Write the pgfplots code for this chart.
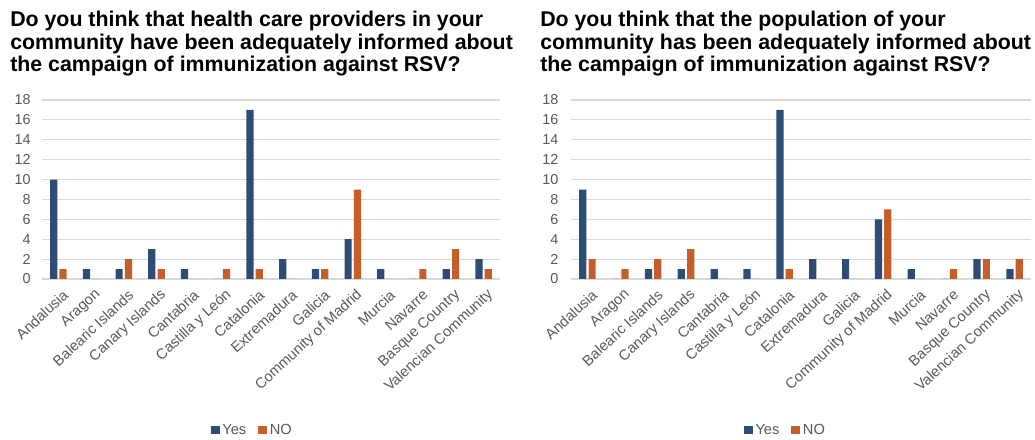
\documentclass[border=0pt]{standalone}
\usepackage{pgfplots}
\pgfplotsset{compat=1.18}
\usepackage{pgfplotstable}
\usepackage{fontspec}
\setmainfont{Liberation Sans}
\definecolor{yesblue}{HTML}{2E4D74}
\definecolor{noorange}{HTML}{C45F2A}
\definecolor{ticktext}{HTML}{595959}
\definecolor{gridgray}{HTML}{D9D9D9}

\pgfplotstableread{
x yes no
0 10 1
1 1 0
2 1 2
3 3 1
4 1 0
5 0 1
6 17 1
7 2 0
8 1 1
9 4 9
10 1 0
11 0 1
12 1 3
13 2 1
}\leftdata

\pgfplotstableread{
x yes no
0 9 2
1 0 1
2 1 2
3 1 3
4 1 0
5 1 0
6 17 1
7 2 0
8 2 0
9 6 7
10 1 0
11 0 1
12 2 2
13 1 2
}\rightdata

\pgfplotsset{
  mystyle/.style={
    scale only axis,
    width=#1,
    height=134.25pt,
    ybar=1.6pt,
    bar width=5.4pt,
    xmin=-0.5, xmax=13.5,
    ymin=0, ymax=18,
    ytick={0,2,...,18},
    xtick={0,...,13},
    xticklabels={Andalusia,Aragon,Balearic Islands,Canary Islands,Cantabria,Castilla y León,Catalonia,Extremadura,Galicia,Community of Madrid,Murcia,Navarre,Basque Country,Valencian Community},
    x tick label style={rotate=43, anchor=east, font=\fontsize{11}{12}\selectfont, text=ticktext, inner sep=1pt, yshift=-8pt, xshift=1pt},
    y tick label style={font=\fontsize{10.8}{12}\selectfont, text=ticktext},
    /pgf/number format/assume math mode=true,
    ymajorgrids,
    grid style={gridgray, line width=0.8pt},
    axis line style={draw=none},
    major tick style={draw=none},
    legend columns=2,
    legend style={draw=none, fill=none, font=\fontsize{11}{12}\selectfont, text=ticktext, anchor=center, /tikz/every even column/.append style={column sep=7pt}},
    legend image code/.code={\fill[##1] (0pt,-3.3pt) rectangle (6.6pt,3.3pt);},
    clip=false,
  }
}

\begin{document}
\begin{tikzpicture}[x=0.75pt,y=0.75pt]
\clip (0,0) rectangle (1035,439);
\path[use as bounding box] (0,0) rectangle (1035,439);

\node[anchor=north west, align=left, inner sep=0pt, font=\bfseries\fontsize{16}{16.9}\selectfont] at (10,428)
  {Do you think that health care providers in your\\community have been adequately informed about\\the campaign of immunization against RSV?};
\node[anchor=north west, align=left, inner sep=0pt, font=\bfseries\fontsize{16}{16.9}\selectfont] at (540,428)
  {Do you think that the population of your\\community has been adequately informed about\\the campaign of immunization against RSV?};

\begin{axis}[mystyle=343.5pt, at={(31.5pt,120pt)}, anchor=south west,
  y tick label style={xshift=-5pt},
  legend style={at={(0.46,-0.844)}}]
\addplot[fill=yesblue, draw=none] table[x=x,y=yes] {\leftdata};
\addplot[fill=noorange, draw=none] table[x=x,y=no] {\leftdata};
\legend{Yes,NO}
\end{axis}

\begin{axis}[mystyle=345pt, at={(428.25pt,120pt)}, anchor=south west,
  y tick label style={xshift=-6pt},
  legend style={at={(0.467,-0.844)}}]
\addplot[fill=yesblue, draw=none] table[x=x,y=yes] {\rightdata};
\addplot[fill=noorange, draw=none] table[x=x,y=no] {\rightdata};
\legend{Yes,NO}
\end{axis}
\end{tikzpicture}
\end{document}
